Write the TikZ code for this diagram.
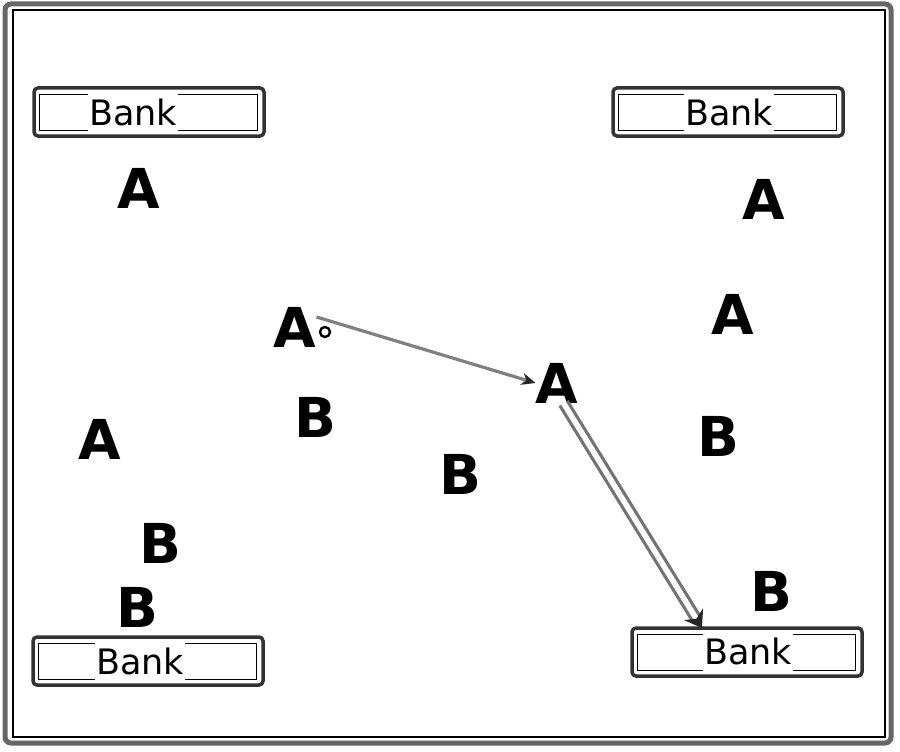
\documentclass[tikz,border=0pt]{standalone}
\usepackage{fontspec}
\setmainfont{DejaVu Sans}
\usetikzlibrary{arrows.meta}
\begin{document}
\begin{tikzpicture}[x=1pt,y=-1pt,
  letter/.style={font=\fontsize{55}{55}\selectfont\bfseries, inner sep=0pt},
  bankbox/.style={draw=black!80, line width=3.5pt, rounded corners=4pt, minimum width=230pt, minimum height=48pt, inner sep=0pt},
  bankinner/.style={draw=black, line width=1pt},
  banktext/.style={font=\fontsize{35}{35}\selectfont, fill=white, inner sep=1pt, minimum height=40pt},
  conn/.style={draw=black!50, line width=3.2pt, -{Stealth[length=14pt,width=12pt,black!85]}},
  dconn/.style={draw=black!55, line width=3.2pt, double=white, double distance=5.5pt, -{Stealth[length=16pt,width=22pt,black!85]}},
  portdot/.style={circle, draw=black, line width=2.4pt, fill=white, minimum size=10pt, inner sep=0pt}
]
\useasboundingbox (0,0) rectangle (900,752);
% frame
\draw[line width=5pt, black!60, rounded corners=6pt] (5,4) rectangle (891,743);
\draw[line width=1.2pt, black] (13,10) rectangle (885,737);

% banks
\node[bankbox] (btl) at (149,112) {};
\node[bankbox] (btr) at (728,112) {};
\node[bankbox] (bbl) at (148,661) {};
\node[bankbox] (bbr) at (747,652) {};
\foreach \b in {btl,btr,bbl,bbr}{
  \draw[bankinner] ([shift={(7,8)}]\b.north west) rectangle ([shift={(-8,-7)}]\b.south east);
}
\node[banktext] (ttl) at (133,112) {Bank};
\node[banktext] (ttr) at (729,112) {Bank};
\node[banktext] (tbl) at (140,661) {Bank};
\node[banktext] (tbr) at (748,651) {Bank};

% letters A
\node[letter] (a1) at (139,188) {A};
\node[letter] (a2) at (764,199) {A};
\node[letter] (a3) at (295,327) {A};
\node[letter] (am) at (557,383) {A};
\node[letter] (a5) at (100,439) {A};
\node[letter] (a6) at (733,314) {A};
% letters B
\node[letter] (b1) at (315,417) {B};
\node[letter] (b2) at (718,436) {B};
\node[letter] (b3) at (460,474) {B};
\node[letter] (b4) at (160,543) {B};
\node[letter] (b5) at (137,607) {B};
\node[letter] (b6) at (771,591) {B};

% port dot
\node[portdot] (dot) at (325,332) {};

% connectors
\coordinate (tip2) at (702,628);
\draw[conn] (a3.25) -- (am.west);
\draw[dconn] (am.-72) -- (tip2);
\end{tikzpicture}
\end{document}
